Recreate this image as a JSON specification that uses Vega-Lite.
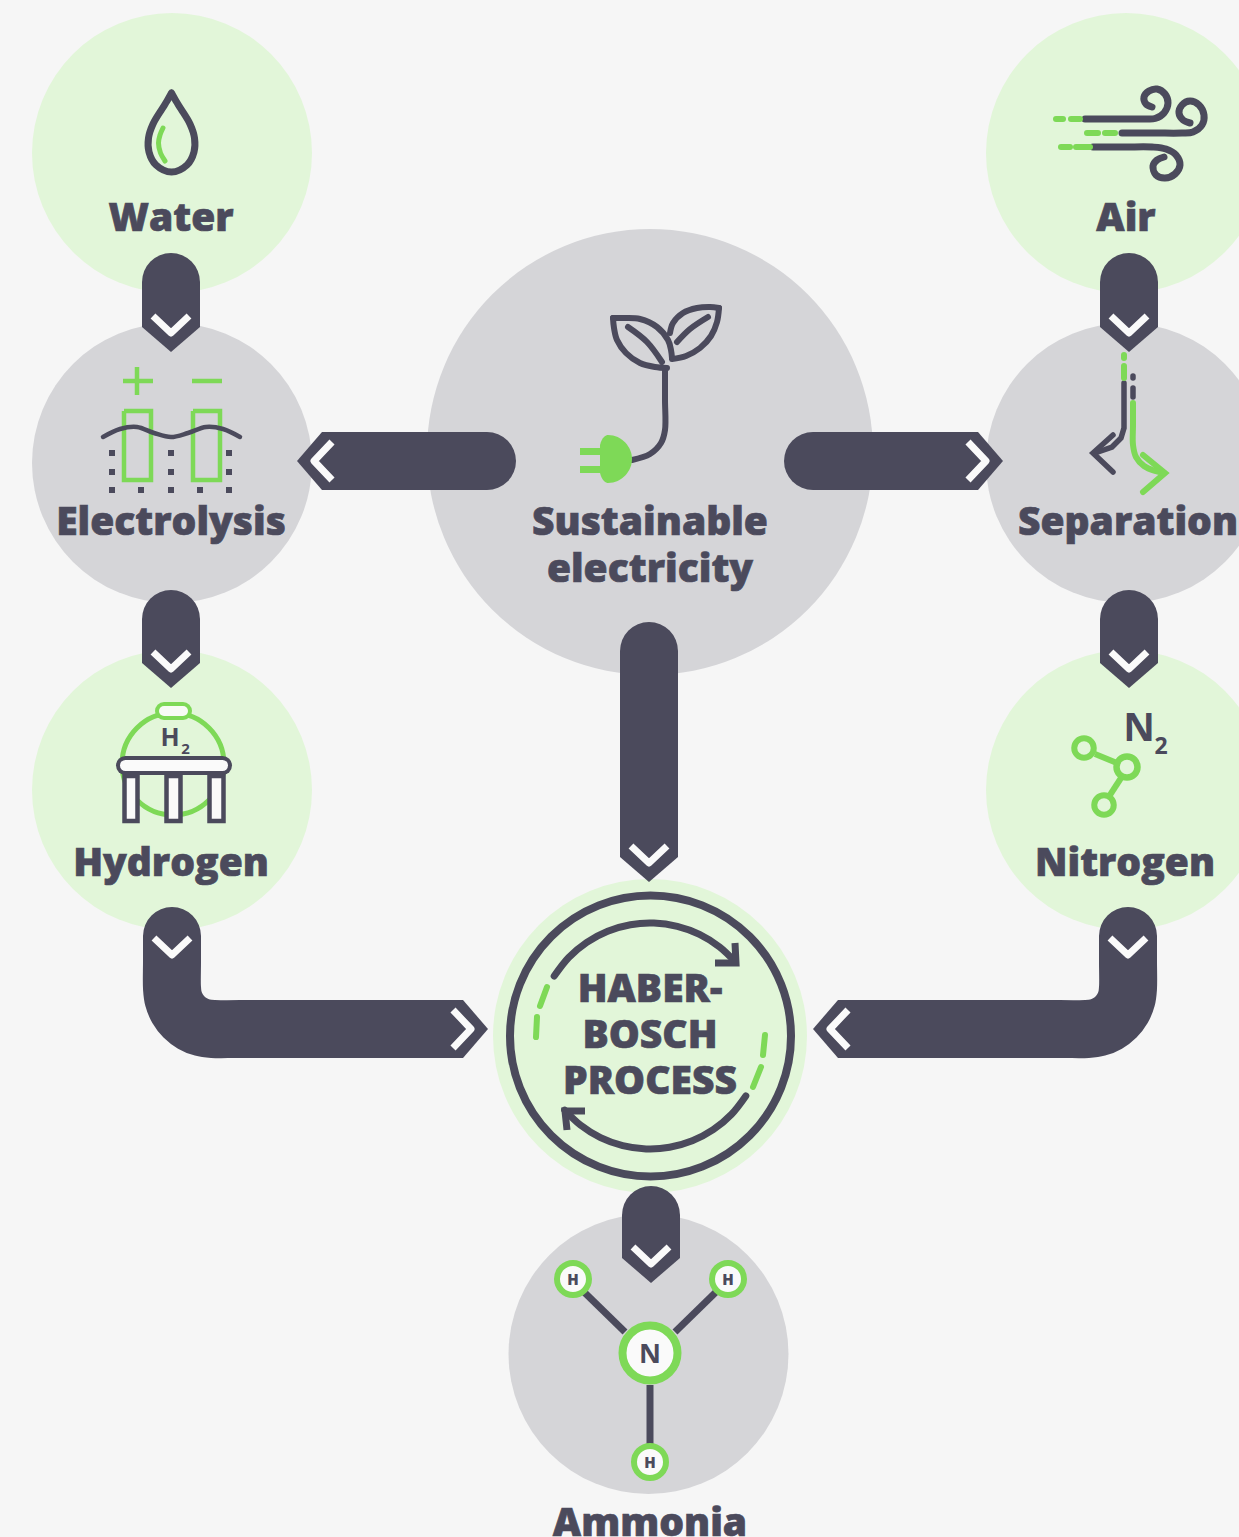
{
"$schema":"https://vega.github.io/schema/vega-lite/v6.json",
"autosize":{"type":"fit","contains":"padding"},
"width":1239,"height":1537,"padding":0,"background":"#f6f6f6",
"config":{"view":{"stroke":null}},
"datasets":{
"smallGreenNodes":[{"node":"Water","x":172,"y":153},{"node":"Air","x":1126,"y":153},{"node":"Hydrogen","x":172,"y":790},{"node":"Nitrogen","x":1126,"y":790}],
"smallGreyNodes":[{"node":"Electrolysis","x":172,"y":463},{"node":"Separation","x":1126,"y":463},{"node":"Ammonia","x":648.5,"y":1354}],
"largeGreyNodes":[{"node":"Sustainable electricity","x":650,"y":452}],
"processNodes":[{"node":"Haber-Bosch process","x":650,"y":1036}],
"processRing":[{"x":650.5,"y":1036}],
"waterDark":[
{"x":171.5,"y":93},{"x":176,"y":101},{"x":181,"y":109},{"x":190,"y":124},{"x":194.5,"y":138},{"x":194,"y":152},{"x":187,"y":165},{"x":171.5,"y":172},{"x":156,"y":165},{"x":149,"y":152},{"x":148.5,"y":138},{"x":153,"y":124},{"x":162,"y":109},{"x":167,"y":101},{"x":171.5,"y":93}],
"greenCurves":[
{"p":"drop","x":163,"y":128},{"p":"drop","x":160,"y":135},{"p":"drop","x":158.5,"y":143},{"p":"drop","x":160.5,"y":153},{"p":"drop","x":165,"y":161}],
"greenThin":[
{"p":"plusH","x":123,"y":381},{"p":"plusH","x":153,"y":381},
{"p":"plusV","x":137,"y":367},{"p":"plusV","x":137,"y":395},
{"p":"minus","x":192,"y":381},{"p":"minus","x":222,"y":381},
{"p":"box1","x":124,"y":411},{"p":"box1","x":151,"y":411},{"p":"box1","x":151,"y":480},{"p":"box1","x":124,"y":480},{"p":"box1","x":124,"y":411},
{"p":"box2","x":193,"y":411},{"p":"box2","x":220,"y":411},{"p":"box2","x":220,"y":480},{"p":"box2","x":193,"y":480},{"p":"box2","x":193,"y":411}],
"wave":[{"x":103,"y":437},{"x":120,"y":429},{"x":137,"y":427},{"x":154,"y":433},{"x":171,"y":437},{"x":188,"y":433},{"x":206,"y":427},{"x":223,"y":429},{"x":240,"y":437}],
"dots":[{"x":112,"y":453},{"x":171,"y":453},{"x":229,"y":453},{"x":112,"y":472},{"x":171,"y":472},{"x":229,"y":472},{"x":112,"y":490},{"x":141,"y":490},{"x":171,"y":490},{"x":200,"y":490},{"x":229,"y":490}],
"windDark":[
{"p":"a","x":1085,"y":119},{"p":"a","x":1120,"y":119},{"p":"a","x":1145,"y":119},{"p":"a","x":1155,"y":118.5},{"p":"a","x":1164,"y":113},{"p":"a","x":1168,"y":103},{"p":"a","x":1165,"y":94},{"p":"a","x":1157,"y":89},{"p":"a","x":1149,"y":91},{"p":"a","x":1144,"y":97},{"p":"a","x":1146,"y":104},{"p":"a","x":1152,"y":107},
{"p":"b","x":1122,"y":133},{"p":"b","x":1155,"y":133},{"p":"b","x":1182,"y":133},{"p":"b","x":1193,"y":132},{"p":"b","x":1202,"y":125},{"p":"b","x":1204,"y":115},{"p":"b","x":1199,"y":105},{"p":"b","x":1190,"y":101},{"p":"b","x":1182,"y":105},{"p":"b","x":1179,"y":113},{"p":"b","x":1183,"y":120},{"p":"b","x":1190,"y":123},
{"p":"c","x":1093,"y":147},{"p":"c","x":1125,"y":147},{"p":"c","x":1152,"y":147},{"p":"c","x":1166,"y":149},{"p":"c","x":1176,"y":155},{"p":"c","x":1180,"y":165},{"p":"c","x":1175,"y":174},{"p":"c","x":1165,"y":178},{"p":"c","x":1156,"y":175},{"p":"c","x":1153,"y":166},{"p":"c","x":1157,"y":160},{"p":"c","x":1164,"y":157}],
"windGreen":[
{"p":"a1","x":1056,"y":119},{"p":"a1","x":1063,"y":119},{"p":"a2","x":1071,"y":119},{"p":"a2","x":1080,"y":119},
{"p":"b1","x":1087,"y":133},{"p":"b1","x":1098,"y":133},{"p":"b2","x":1105,"y":133},{"p":"b2","x":1115,"y":133},
{"p":"c1","x":1061,"y":147},{"p":"c1","x":1070,"y":147},{"p":"c2","x":1076,"y":147},{"p":"c2","x":1090,"y":147},
{"p":"d1","x":1124,"y":355},{"p":"d1","x":1124,"y":358},{"p":"d2","x":1124,"y":366},{"p":"d2","x":1124,"y":378},
{"p":"h1","x":1143,"y":455},{"p":"h1","x":1165,"y":473},{"p":"h1","x":1143,"y":492},
{"p":"x1","x":547,"y":987},{"p":"x1","x":540,"y":1006},
{"p":"x2","x":537,"y":1017},{"p":"x2","x":536,"y":1037},
{"p":"x3","x":765,"y":1035},{"p":"x3","x":763,"y":1055},
{"p":"x4","x":761,"y":1067},{"p":"x4","x":753,"y":1087}],
"separationGreenCurve":[{"x":1133,"y":403},{"x":1133,"y":425},{"x":1133,"y":445},{"x":1136,"y":457},{"x":1144,"y":466},{"x":1155,"y":471},{"x":1164,"y":473}],
"separationDark":[
{"p":"d1","x":1133,"y":376},{"p":"d1","x":1133,"y":378},
{"p":"d2","x":1133,"y":388},{"p":"d2","x":1133,"y":397},
{"p":"l","x":1124,"y":383},{"p":"l","x":1124,"y":428},{"p":"l","x":1121,"y":438},{"p":"l","x":1112,"y":447},{"p":"l","x":1095,"y":453},
{"p":"h","x":1113,"y":435},{"p":"h","x":1093,"y":453},{"p":"h","x":1113,"y":472}],
"leaf":[
{"p":"a","x":613,"y":318},{"p":"a","x":625,"y":318},{"p":"a","x":640,"y":319},{"p":"a","x":657,"y":327},{"p":"a","x":668,"y":340},{"p":"a","x":671,"y":350},{"p":"a","x":672,"y":358},
{"p":"b","x":613,"y":318},{"p":"b","x":614,"y":328},{"p":"b","x":617,"y":340},{"p":"b","x":626,"y":353},{"p":"b","x":640,"y":363},{"p":"b","x":655,"y":367},{"p":"b","x":667,"y":368},
{"p":"c","x":628,"y":327},{"p":"c","x":647,"y":342},{"p":"c","x":662,"y":362},
{"p":"d","x":719,"y":308},{"p":"d","x":710,"y":307},{"p":"d","x":697,"y":308},{"p":"d","x":683,"y":313},{"p":"d","x":673,"y":323},{"p":"d","x":670,"y":333},
{"p":"e","x":719,"y":308},{"p":"e","x":717,"y":322},{"p":"e","x":711,"y":336},{"p":"e","x":700,"y":348},{"p":"e","x":686,"y":356},{"p":"e","x":672,"y":359},
{"p":"f","x":677,"y":342},{"p":"f","x":690,"y":329},{"p":"f","x":708,"y":317},
{"p":"g","x":665,"y":368},{"p":"g","x":665,"y":400},{"p":"g","x":665,"y":430},{"p":"g","x":661,"y":443},{"p":"g","x":650,"y":454},{"p":"g","x":632,"y":460}],
"plugProngs":[{"p":"a","x":580,"y":451.5},{"p":"a","x":602,"y":451.5},{"p":"b","x":580,"y":469.5},{"p":"b","x":602,"y":469.5}],
"plugBody":[{"x":608,"y":459}],
"tank":[{"x":173,"y":764}],
"tankCapOuter":[{"x":164,"y":711},{"x":183,"y":711}],
"tankBand":[{"x":125.5,"y":765.5},{"x":222.5,"y":765.5}],
"tankLegs":[{"x":124.5,"x2":137.5,"y":776,"y2":821},{"x":166.5,"x2":180.5,"y":776,"y2":821},{"x":209.5,"x2":223.5,"y":776,"y2":821}],
"ringsBigN2":[{"x":1127,"y":767}],
"ringsSmallN2":[{"x":1084,"y":748},{"x":1104,"y":805}],
"bondsN2":[{"p":"a","x":1095,"y":754},{"p":"a","x":1117,"y":763},{"p":"b","x":1121,"y":778},{"p":"b","x":1110,"y":795}],
"cycleArcs":[
{"p":"u","x":554.2,"y":976.1},{"p":"u","x":568.7,"y":957.5},{"p":"u","x":586.8,"y":942.3},{"p":"u","x":607.7,"y":931.2},{"p":"u","x":630.4,"y":924.7},{"p":"u","x":653.9,"y":923.1},{"p":"u","x":677.3,"y":926.4},{"p":"u","x":699.5,"y":934.4},{"p":"u","x":719.6,"y":947},{"p":"u","x":735.3,"y":961.9},
{"p":"d","x":745.8,"y":1095.9},{"p":"d","x":731.3,"y":1114.5},{"p":"d","x":713.2,"y":1129.7},{"p":"d","x":692.3,"y":1140.8},{"p":"d","x":669.6,"y":1147.3},{"p":"d","x":646.1,"y":1148.9},{"p":"d","x":622.7,"y":1145.6},{"p":"d","x":600.5,"y":1137.6},{"p":"d","x":580.4,"y":1125},{"p":"d","x":564.7,"y":1110.1}],
"cycleHeads":[
{"p":"uh","x":735,"y":943},{"p":"uh","x":736,"y":963},{"p":"uh","x":715,"y":963},
{"p":"dh","x":585,"y":1111},{"p":"dh","x":565,"y":1111},{"p":"dh","x":567,"y":1130}],
"bondsNH3":[{"p":"a","x":584,"y":1292},{"p":"a","x":625,"y":1332},{"p":"b","x":716,"y":1292},{"p":"b","x":675,"y":1332},{"p":"c","x":650,"y":1385},{"p":"c","x":650,"y":1445}],
"atomN":[{"x":650,"y":1353}],
"atomH":[{"x":573,"y":1279},{"x":728,"y":1279},{"x":650,"y":1462}],
"shafts":[
{"p":"water","x":171,"y":282},{"p":"water","x":171,"y":298},
{"p":"elec","x":171,"y":619},{"p":"elec","x":171,"y":634},
{"p":"air","x":1129,"y":282},{"p":"air","x":1129,"y":298},
{"p":"sep","x":1129,"y":619},{"p":"sep","x":1129,"y":634},
{"p":"sus","x":649,"y":651},{"p":"sus","x":649,"y":828},
{"p":"hab","x":651,"y":1215},{"p":"hab","x":651,"y":1229},
{"p":"left","x":487,"y":461},{"p":"left","x":351,"y":461},
{"p":"right","x":813,"y":461},{"p":"right","x":949,"y":461}],
"bends":[
{"p":"hyd","x":172,"y":936},{"p":"hyd","x":172,"y":962},{"p":"hyd","x":172,"y":988},{"p":"hyd","x":173.4,"y":998.6},{"p":"hyd","x":177.5,"y":1008.5},{"p":"hyd","x":184,"y":1017},{"p":"hyd","x":192.5,"y":1023.5},{"p":"hyd","x":202.4,"y":1027.6},{"p":"hyd","x":213,"y":1029},{"p":"hyd","x":240,"y":1029},{"p":"hyd","x":434,"y":1029},
{"p":"nit","x":1128,"y":936},{"p":"nit","x":1128,"y":962},{"p":"nit","x":1128,"y":988},{"p":"nit","x":1126.6,"y":998.6},{"p":"nit","x":1122.5,"y":1008.5},{"p":"nit","x":1116,"y":1017},{"p":"nit","x":1107.5,"y":1023.5},{"p":"nit","x":1097.6,"y":1027.6},{"p":"nit","x":1087,"y":1029},{"p":"nit","x":1060,"y":1029},{"p":"nit","x":867,"y":1029}],
"tipsDown":[{"x":171,"y":327},{"x":171,"y":663},{"x":1129,"y":327},{"x":1129,"y":663},{"x":649,"y":857},{"x":651,"y":1258}],
"tipsRight":[{"x":978,"y":461},{"x":463,"y":1029}],
"tipsLeft":[{"x":322,"y":461},{"x":838,"y":1029}],
"chevDown":[{"x":171,"y":327},{"x":171,"y":663},{"x":1129,"y":327},{"x":1129,"y":663},{"x":649,"y":857},{"x":651,"y":1258},{"x":172,"y":949},{"x":1128,"y":949}],
"labels":[
{"t":"Water","x":171,"y":219},{"t":"Air","x":1126,"y":219},{"t":"Electrolysis","x":171,"y":523},{"t":"Separation","x":1128,"y":523},{"t":"Sustainable","x":650,"y":523},{"t":"electricity","x":650,"y":570},{"t":"Hydrogen","x":171,"y":864},{"t":"Nitrogen","x":1125,"y":864},{"t":"HABER-","x":650,"y":990},{"t":"BOSCH","x":650,"y":1036},{"t":"PROCESS","x":650,"y":1082},{"t":"Ammonia","x":650,"y":1524}],
"symH":[{"t":"H","x":573,"y":1280},{"t":"H","x":728,"y":1280},{"t":"H","x":650,"y":1463}],
"symN":[{"t":"N","x":650,"y":1355}],
"symTankH":[{"t":"H","x":170,"y":738}],
"symTank2":[{"t":"2","x":185.5,"y":748.5}],
"symN2":[{"t":"N","x":1139,"y":729}],
"symN22":[{"t":"2","x":1161,"y":747}]
},
"encoding":{
"x":{"field":"x","type":"quantitative","scale":{"domain":[0,1239],"nice":false,"zero":false},"axis":null},
"y":{"field":"y","type":"quantitative","scale":{"domain":[1537,0],"nice":false,"zero":false},"axis":null}
},
"layer":[
{"data":{"name":"smallGreenNodes"},"mark":{"type":"point","filled":true,"clip":true,"opacity":1,"size":78400,"color":"#e2f6d9"}},
{"data":{"name":"smallGreyNodes"},"mark":{"type":"point","filled":true,"clip":true,"opacity":1,"size":78400,"color":"#d5d5d8"}},
{"data":{"name":"largeGreyNodes"},"mark":{"type":"point","filled":true,"clip":true,"opacity":1,"size":198916,"color":"#d5d5d8"}},
{"data":{"name":"processNodes"},"mark":{"type":"point","filled":true,"clip":true,"opacity":1,"size":98596,"color":"#e2f6d9"}},
{"data":{"name":"processRing"},"mark":{"type":"point","filled":false,"opacity":1,"size":78961,"stroke":"#4b4a5c","strokeWidth":8}},

{"data":{"name":"waterDark"},"mark":{"type":"line","interpolate":"catmull-rom","stroke":"#4b4a5c","strokeWidth":7,"strokeCap":"round"},"encoding":{"order":{"value":null}}},
{"data":{"name":"greenCurves"},"mark":{"type":"line","interpolate":"catmull-rom","stroke":"#7ed957","strokeWidth":5,"strokeCap":"round"},"encoding":{"detail":{"field":"p"},"order":{"value":null}}},
{"data":{"name":"greenThin"},"mark":{"type":"line","stroke":"#7ed957","strokeWidth":4.5,"strokeCap":"butt","strokeJoin":"miter"},"encoding":{"detail":{"field":"p"},"order":{"value":null}}},
{"data":{"name":"wave"},"mark":{"type":"line","interpolate":"catmull-rom","stroke":"#4b4a5c","strokeWidth":4.5,"strokeCap":"round"},"encoding":{"order":{"value":null}}},
{"data":{"name":"dots"},"mark":{"type":"point","shape":"square","filled":true,"opacity":1,"size":36,"color":"#4b4a5c"}},
{"data":{"name":"windDark"},"mark":{"type":"line","interpolate":"catmull-rom","stroke":"#4b4a5c","strokeWidth":7,"strokeCap":"round"},"encoding":{"detail":{"field":"p"},"order":{"value":null}}},
{"data":{"name":"separationDark"},"mark":{"type":"line","stroke":"#4b4a5c","strokeWidth":5.5,"strokeCap":"round","strokeJoin":"miter"},"encoding":{"detail":{"field":"p"},"order":{"value":null}}},
{"data":{"name":"windGreen"},"mark":{"type":"line","stroke":"#7ed957","strokeWidth":6,"strokeCap":"round","strokeJoin":"miter"},"encoding":{"detail":{"field":"p"},"order":{"value":null}}},
{"data":{"name":"separationGreenCurve"},"mark":{"type":"line","interpolate":"catmull-rom","stroke":"#7ed957","strokeWidth":6,"strokeCap":"round"},"encoding":{"order":{"value":null}}},
{"data":{"name":"leaf"},"mark":{"type":"line","interpolate":"catmull-rom","stroke":"#4b4a5c","strokeWidth":6,"strokeCap":"round"},"encoding":{"detail":{"field":"p"},"order":{"value":null}}},
{"data":{"name":"plugProngs"},"mark":{"type":"line","stroke":"#7ed957","strokeWidth":7,"strokeCap":"butt"},"encoding":{"detail":{"field":"p"},"order":{"value":null}}},
{"data":{"name":"plugBody"},"mark":{"type":"point","filled":true,"opacity":1,"size":4,"color":"#7ed957","shape":"M-8,-14 C-6,-22 -2,-24 0,-24 C14,-24 24,-12 24,0 C24,12 14,24 0,24 C-2,24 -6,22 -8,14 Z"}},

{"data":{"name":"tank"},"mark":{"type":"point","filled":false,"opacity":1,"size":10404,"stroke":"#7ed957","strokeWidth":5}},
{"data":{"name":"tankCapOuter"},"mark":{"type":"line","stroke":"#7ed957","strokeWidth":18,"strokeCap":"round"},"encoding":{"order":{"value":null}}},
{"data":{"name":"tankCapOuter"},"mark":{"type":"line","stroke":"#f8fbf6","strokeWidth":10,"strokeCap":"round"},"encoding":{"order":{"value":null}}},
{"data":{"name":"tankLegs"},"mark":{"type":"rect","fill":"#fafafa","stroke":"#4b4a5c","strokeWidth":4.5},"encoding":{"x2":{"field":"x2"},"y2":{"field":"y2"}}},
{"data":{"name":"tankBand"},"mark":{"type":"line","stroke":"#4b4a5c","strokeWidth":19,"strokeCap":"round"},"encoding":{"order":{"value":null}}},
{"data":{"name":"tankBand"},"mark":{"type":"line","stroke":"#fafafa","strokeWidth":11,"strokeCap":"round"},"encoding":{"order":{"value":null}}},

{"data":{"name":"bondsN2"},"mark":{"type":"line","stroke":"#7ed957","strokeWidth":6,"strokeCap":"butt"},"encoding":{"detail":{"field":"p"},"order":{"value":null}}},
{"data":{"name":"ringsBigN2"},"mark":{"type":"point","filled":false,"opacity":1,"size":441,"stroke":"#7ed957","strokeWidth":6.5}},
{"data":{"name":"ringsSmallN2"},"mark":{"type":"point","filled":false,"opacity":1,"size":380,"stroke":"#7ed957","strokeWidth":6}},

{"data":{"name":"cycleArcs"},"mark":{"type":"line","interpolate":"catmull-rom","stroke":"#4b4a5c","strokeWidth":7,"strokeCap":"round"},"encoding":{"detail":{"field":"p"},"order":{"value":null}}},
{"data":{"name":"cycleHeads"},"mark":{"type":"line","stroke":"#4b4a5c","strokeWidth":7,"strokeCap":"butt","strokeJoin":"miter"},"encoding":{"detail":{"field":"p"},"order":{"value":null}}},

{"data":{"name":"bondsNH3"},"mark":{"type":"line","stroke":"#4b4a5c","strokeWidth":7,"strokeCap":"butt"},"encoding":{"detail":{"field":"p"},"order":{"value":null}}},
{"data":{"name":"atomN"},"mark":{"type":"point","filled":true,"opacity":1,"size":3025,"fill":"#fafafa","stroke":"#7ed957","strokeWidth":8}},
{"data":{"name":"atomH"},"mark":{"type":"point","filled":true,"opacity":1,"size":1024,"fill":"#fafafa","stroke":"#7ed957","strokeWidth":6}},

{"data":{"name":"shafts"},"mark":{"type":"line","stroke":"#4b4a5c","strokeWidth":58,"strokeCap":"round","strokeJoin":"round"},"encoding":{"detail":{"field":"p"},"order":{"value":null}}},
{"data":{"name":"bends"},"mark":{"type":"line","interpolate":"catmull-rom","stroke":"#4b4a5c","strokeWidth":58,"strokeCap":"round","strokeJoin":"round"},"encoding":{"detail":{"field":"p"},"order":{"value":null}}},
{"data":{"name":"tipsDown"},"mark":{"type":"point","filled":true,"opacity":1,"size":4,"color":"#4b4a5c","shape":"M-29,-29 L29,-29 L29,0 L0,25 L-29,0 Z"}},
{"data":{"name":"tipsRight"},"mark":{"type":"point","filled":true,"opacity":1,"size":4,"color":"#4b4a5c","shape":"M-29,-29 L0,-29 L25,0 L0,29 L-29,29 Z"}},
{"data":{"name":"tipsLeft"},"mark":{"type":"point","filled":true,"opacity":1,"size":4,"color":"#4b4a5c","shape":"M29,-29 L0,-29 L-25,0 L0,29 L29,29 Z"}},
{"data":{"name":"chevDown"},"mark":{"type":"point","filled":false,"opacity":1,"size":4,"stroke":"#fafafa","strokeWidth":7,"strokeCap":"butt","strokeJoin":"round","shape":"M-18,-11 L0,6 L18,-11"}},
{"data":{"name":"tipsRight"},"mark":{"type":"point","filled":false,"opacity":1,"size":4,"stroke":"#fafafa","strokeWidth":7,"strokeCap":"butt","strokeJoin":"round","shape":"M-10,-19 L8,0 L-10,19"}},
{"data":{"name":"tipsLeft"},"mark":{"type":"point","filled":false,"opacity":1,"size":4,"stroke":"#fafafa","strokeWidth":7,"strokeCap":"butt","strokeJoin":"round","shape":"M10,-19 L-8,0 L10,19"}},

{"data":{"name":"labels"},"mark":{"type":"text","font":"Open Sans","fontWeight":800,"fontSize":39,"align":"center","baseline":"middle","color":"#4b4a5c","stroke":"#4b4a5c","strokeWidth":0.7,"clip":true},"encoding":{"text":{"field":"t"}}},
{"data":{"name":"symH"},"mark":{"type":"text","font":"Open Sans","fontWeight":800,"fontSize":15,"align":"center","baseline":"middle","color":"#4b4a5c"},"encoding":{"text":{"field":"t"}}},
{"data":{"name":"symN"},"mark":{"type":"text","font":"Open Sans","fontWeight":700,"fontSize":27,"align":"center","baseline":"middle","color":"#4b4a5c"},"encoding":{"text":{"field":"t"}}},
{"data":{"name":"symTankH"},"mark":{"type":"text","font":"Open Sans","fontWeight":700,"fontSize":25,"align":"center","baseline":"middle","color":"#4b4a5c"},"encoding":{"text":{"field":"t"}}},
{"data":{"name":"symTank2"},"mark":{"type":"text","font":"Open Sans","fontWeight":700,"fontSize":15,"align":"center","baseline":"middle","color":"#4b4a5c"},"encoding":{"text":{"field":"t"}}},
{"data":{"name":"symN2"},"mark":{"type":"text","font":"Open Sans","fontWeight":700,"fontSize":39,"align":"center","baseline":"middle","color":"#4b4a5c"},"encoding":{"text":{"field":"t"}}},
{"data":{"name":"symN22"},"mark":{"type":"text","font":"Open Sans","fontWeight":700,"fontSize":23,"align":"center","baseline":"middle","color":"#4b4a5c"},"encoding":{"text":{"field":"t"}}}
]
}
